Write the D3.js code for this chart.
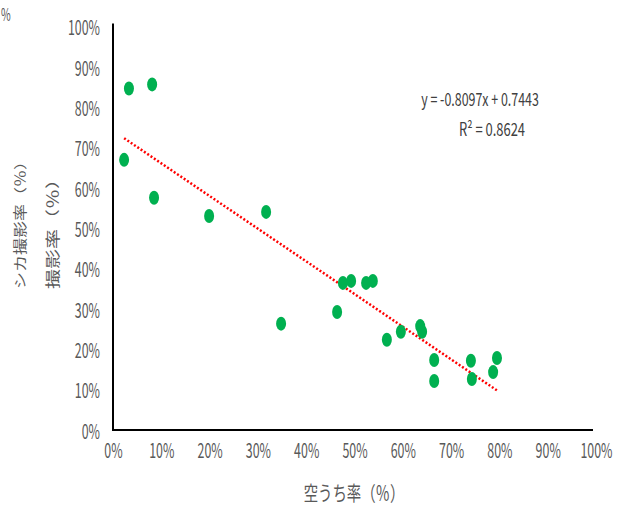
<!DOCTYPE html>
<html><head><meta charset="utf-8">
<script src="https://cdn.jsdelivr.net/npm/d3@7"></script>
<style>
body{margin:0;background:#fff;}
svg{display:block;}
text{font-family:"Noto Sans CJK JP","Noto Sans",sans-serif;}
</style></head>
<body>
<script>
// Data: 空うち率 (x) vs 撮影率 (y)
const xValues = [0.023,0.033,0.081,0.085,0.199,0.317,0.348,0.464,0.476,0.493,0.524,0.538,0.567,0.596,0.636,0.640,0.665,0.665,0.741,0.743,0.787,0.795];
const yValues = [0.672,0.849,0.859,0.578,0.533,0.543,0.266,0.295,0.367,0.372,0.367,0.372,0.226,0.246,0.260,0.246,0.176,0.124,0.174,0.129,0.146,0.181];
const xTicks = [0,0.1,0.2,0.3,0.4,0.5,0.6,0.7,0.8,0.9,1.0];
const yTicks = [0,0.1,0.2,0.3,0.4,0.5,0.6,0.7,0.8,0.9,1.0];
const trendSlope = -0.8097;
const trendIntercept = 0.7443;
const equationLabel = "y = -0.8097x + 0.7443";
const r2Label = "R² = 0.8624";
const xTitle = "空うち率（％）";
const yTitle1 = "シカ撮影率（％）";
const yTitle2 = "撮影率（％）";

const W = 624, H = 508;
const svg = d3.select("body").append("svg").attr("width", W).attr("height", H);

const x = d3.scaleLinear().domain([0,1]).range([113,596]);
const y = d3.scaleLinear().domain([0,1]).range([431,27.5]);
const SX = 0.62;

function ctext(px, py, str, opts) {
  const o = Object.assign({size:20, anchor:"middle", fill:"#595959", sx:SX}, opts||{});
  return svg.append("text")
    .attr("transform", `translate(${px},${py}) scale(${o.sx},1)`)
    .attr("text-anchor", o.anchor)
    .attr("font-size", o.size)
    .attr("fill", o.fill)
    .text(str);
}

// stray % at top-left
ctext(1, 21, "%", {anchor:"start", size:17});

// Axes (no ticks) via d3 axes
const fmt = d3.format(".0%");
const yAxis = svg.append("g").attr("transform", `translate(${x(0)},0)`)
  .call(d3.axisLeft(y).tickValues(yTicks).tickSize(0).tickFormat(fmt));
yAxis.select(".domain").remove();
yAxis.selectAll(".tick text")
  .attr("font-size", 20).attr("fill", "#595959")
  .attr("font-family", '"Noto Sans CJK JP","Noto Sans",sans-serif')
  .attr("x", -13/SX).attr("dy", "0.36em")
  .attr("transform", `scale(${SX},1)`);

const xAxis = svg.append("g").attr("transform", `translate(0,${y(0)})`)
  .call(d3.axisBottom(x).tickValues(xTicks).tickSize(0).tickFormat(fmt));
xAxis.select(".domain").remove();
xAxis.selectAll(".tick text")
  .attr("font-size", 20).attr("fill", "#595959")
  .attr("font-family", '"Noto Sans CJK JP","Noto Sans",sans-serif')
  .attr("y", 20).attr("dy", "0.36em")
  .attr("transform", `scale(${SX},1)`);

// axis lines
svg.append("line").attr("x1", x(0)).attr("x2", x(0)).attr("y1", y(1)-4).attr("y2", y(0)-1)
  .attr("stroke", "#000").attr("stroke-width", 2);
svg.append("line").attr("x1", x(0)-1).attr("x2", x(1)-3).attr("y1", y(0)-1).attr("y2", y(0)-1)
  .attr("stroke", "#000").attr("stroke-width", 2);

// Trendline
const xmin = d3.min(xValues), xmax = d3.max(xValues);
svg.append("line")
  .attr("x1", x(xmin)).attr("y1", y(trendSlope*xmin + trendIntercept))
  .attr("x2", x(xmax)).attr("y2", y(trendSlope*xmax + trendIntercept))
  .attr("stroke", "#ff0000").attr("stroke-width", 2.5).attr("stroke-dasharray", "2,2");

// Points
svg.append("g").selectAll("ellipse").data(xValues.map((v,i)=>[v,yValues[i]])).join("ellipse")
  .attr("cx", d=>x(d[0])).attr("cy", d=>y(d[1]))
  .attr("rx", 5).attr("ry", 7)
  .attr("fill", "#00b050");

// Equation
ctext(480, 106, equationLabel, {size:18, fill:"#404040", sx:0.69});
ctext(492, 136, r2Label, {size:18, fill:"#404040", sx:0.72});

// X title
ctext(354, 501, xTitle, {size:20, sx:0.72});

// Y titles (rotated)
svg.append("text")
  .attr("transform", "translate(25,289) rotate(-90) scale(1,0.77)")
  .attr("text-anchor", "start").attr("font-size", 17).attr("fill", "#595959")
  .text(yTitle1);
svg.append("text")
  .attr("transform", "translate(58,289) rotate(-90) scale(1,0.72)")
  .attr("text-anchor", "start").attr("font-size", 20).attr("fill", "#595959")
  .text(yTitle2);
</script>
</body></html>
